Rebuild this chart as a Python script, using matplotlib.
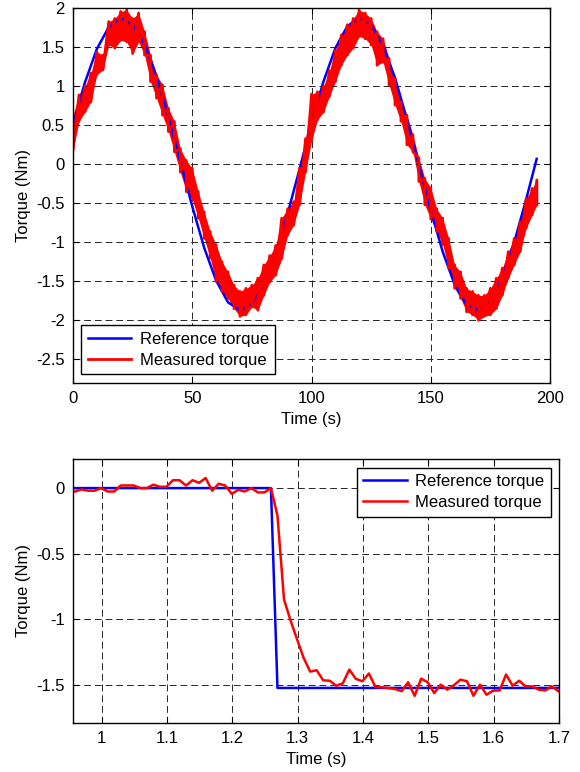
import matplotlib
matplotlib.use('Agg')
import matplotlib.pyplot as plt
import numpy as np

plt.rcParams['font.family'] = ['Liberation Sans', 'DejaVu Sans']
plt.rcParams['font.size'] = 12
plt.rcParams['axes.unicode_minus'] = False

# --- top panel: sinusoidal tracking ---
t_ref = np.append(np.arange(0, 195, 5.0), 194.4)
ref_sine = [0.52, 1.05, 1.48, 1.76, 1.87, 1.79, 1.54, 1.13, 0.61, 0.04,
            -0.54, -1.07, -1.49, -1.77, -1.87, -1.79, -1.54, -1.14, -0.63, -0.06,
            0.53, 1.06, 1.49, 1.77, 1.87, 1.79, 1.52, 1.11, 0.58, 0.00,
            -0.59, -1.12, -1.54, -1.80, -1.87, -1.75, -1.45, -1.00, -0.45, 0.07]

# measured torque: upper / lower edge of the noisy trace
t_meas = np.append(np.arange(0, 195, 2.5), 194.5)
meas_hi = [0.63, 0.89, 1.00, 1.17, 1.44, 1.40, 1.83, 1.87, 1.96, 1.98,
           1.87, 1.94, 1.70, 1.40, 1.15, 1.02, 0.72, 0.55, 0.20, 0.05,
           -0.05, -0.35, -0.61, -0.86, -1.03, -1.25, -1.38, -1.55, -1.63, -1.59,
           -1.55, -1.46, -1.29, -1.17, -1.04, -0.69, -0.57, -0.48, -0.05, 0.33,
           0.90, 0.93, 1.00, 1.20, 1.46, 1.66, 1.79, 1.87, 1.98, 1.94,
           1.87, 1.70, 1.61, 1.36, 1.10, 0.80, 0.63, 0.38, 0.08, -0.18,
           -0.30, -0.57, -0.69, -0.95, -1.29, -1.38, -1.59, -1.63, -1.68, -1.68,
           -1.59, -1.46, -1.33, -1.12, -0.95, -0.74, -0.44, -0.31, -0.20]
meas_lo = [0.18, 0.55, 0.67, 0.80, 1.15, 1.21, 1.53, 1.49, 1.59, 1.57,
           1.42, 1.57, 1.40, 1.06, 0.85, 0.63, 0.42, 0.16, -0.10, -0.35,
           -0.45, -0.69, -0.95, -1.20, -1.50, -1.63, -1.72, -1.85, -1.95, -1.93,
           -1.83, -1.87, -1.68, -1.51, -1.42, -1.21, -0.91, -0.78, -0.52, -0.10,
           0.30, 0.57, 0.67, 0.87, 1.06, 1.27, 1.40, 1.49, 1.64, 1.61,
           1.53, 1.27, 1.31, 1.02, 0.76, 0.55, 0.25, 0.16, -0.22, -0.52,
           -0.70, -0.86, -1.03, -1.33, -1.59, -1.72, -1.89, -1.93, -2.00, -1.95,
           -1.93, -1.85, -1.68, -1.46, -1.29, -1.12, -0.82, -0.65, -0.52]

# --- bottom panel: step response ---
t_step = np.round(0.959 + 0.01 * np.arange(75), 3)
ref_step = [0.0] * 31 + [-1.525] * 44
meas_step = [-0.026, -0.01, -0.02, -0.02, 0.0, -0.026, -0.026, 0.02, 0.02, 0.02,
             0.0, 0.0, 0.026, 0.01, 0.01, 0.06, 0.06, 0.02, 0.06, 0.04,
             0.077, -0.02, 0.033, 0.02, -0.044, -0.013, -0.026, 0.0, -0.033, -0.033,
             0.0, -0.21, -0.85, -1.01, -1.154, -1.295, -1.40, -1.39, -1.467, -1.47,
             -1.508, -1.49, -1.385, -1.456, -1.474, -1.415, -1.518, -1.52, -1.526, -1.533,
             -1.55, -1.482, -1.585, -1.454, -1.482, -1.564, -1.5, -1.538, -1.505, -1.462,
             -1.474, -1.585, -1.5, -1.577, -1.546, -1.544, -1.423, -1.508, -1.47, -1.513,
             -1.513, -1.538, -1.544, -1.513, -1.55]


def style_axes(ax):
    ax.grid(True, color='0.15', linestyle=(0, (7, 4)), linewidth=0.7)
    ax.tick_params(direction='in', top=True, right=True, length=4, pad=6)
    for s in ax.spines.values():
        s.set_linewidth(1.0)
        s.set_color('black')


def add_legend(ax, loc):
    leg = ax.legend(loc=loc, fancybox=False, edgecolor='black', framealpha=1,
                    borderaxespad=0.5, handlelength=2.6, borderpad=0.4,
                    labelspacing=0.35, handletextpad=0.5)
    leg.get_frame().set_linewidth(1.0)


fig = plt.figure(figsize=(5.8, 7.72), dpi=100)

ax1 = fig.add_axes([0.1259, 0.5043, 0.8224, 0.4849])
ax1.plot(t_ref, ref_sine, color='blue', lw=1.8, label='Reference torque')
ax1.fill_between(t_meas, meas_lo, meas_hi, color='red', lw=0)
zig_t = np.repeat(t_meas, 2)
zig_v = np.column_stack([meas_hi, meas_lo]).ravel()
ax1.plot(zig_t, zig_v, color='red', lw=2.0, label='Measured torque')
ax1.set_xlim(0, 200)
ax1.set_ylim(-2.8, 2)
ax1.set_xticks([0, 50, 100, 150, 200])
ax1.set_yticks(np.arange(-2.5, 2.01, 0.5))
ax1.set_yticklabels(['-2.5', '-2', '-1.5', '-1', '-0.5', '0', '0.5', '1', '1.5', '2'])
ax1.set_xlabel('Time (s)')
ax1.set_ylabel('Torque (Nm)')
style_axes(ax1)
add_legend(ax1, 'lower left')

ax2 = fig.add_axes([0.1259, 0.0639, 0.8379, 0.3412])
ax2.plot(t_step, ref_step, color='blue', lw=1.8, label='Reference torque')
ax2.plot(t_step, meas_step, color='red', lw=1.8, label='Measured torque')
ax2.set_xlim(0.956, 1.7)
ax2.set_ylim(-1.79, 0.22)
ax2.set_xticks([1, 1.1, 1.2, 1.3, 1.4, 1.5, 1.6, 1.7])
ax2.set_xticklabels(['1', '1.1', '1.2', '1.3', '1.4', '1.5', '1.6', '1.7'])
ax2.set_yticks([-1.5, -1, -0.5, 0])
ax2.set_yticklabels(['-1.5', '-1', '-0.5', '0'])
ax2.set_xlabel('Time (s)')
ax2.set_ylabel('Torque (Nm)')
style_axes(ax2)
add_legend(ax2, 'upper right')

fig.savefig('out.png', dpi=100)
